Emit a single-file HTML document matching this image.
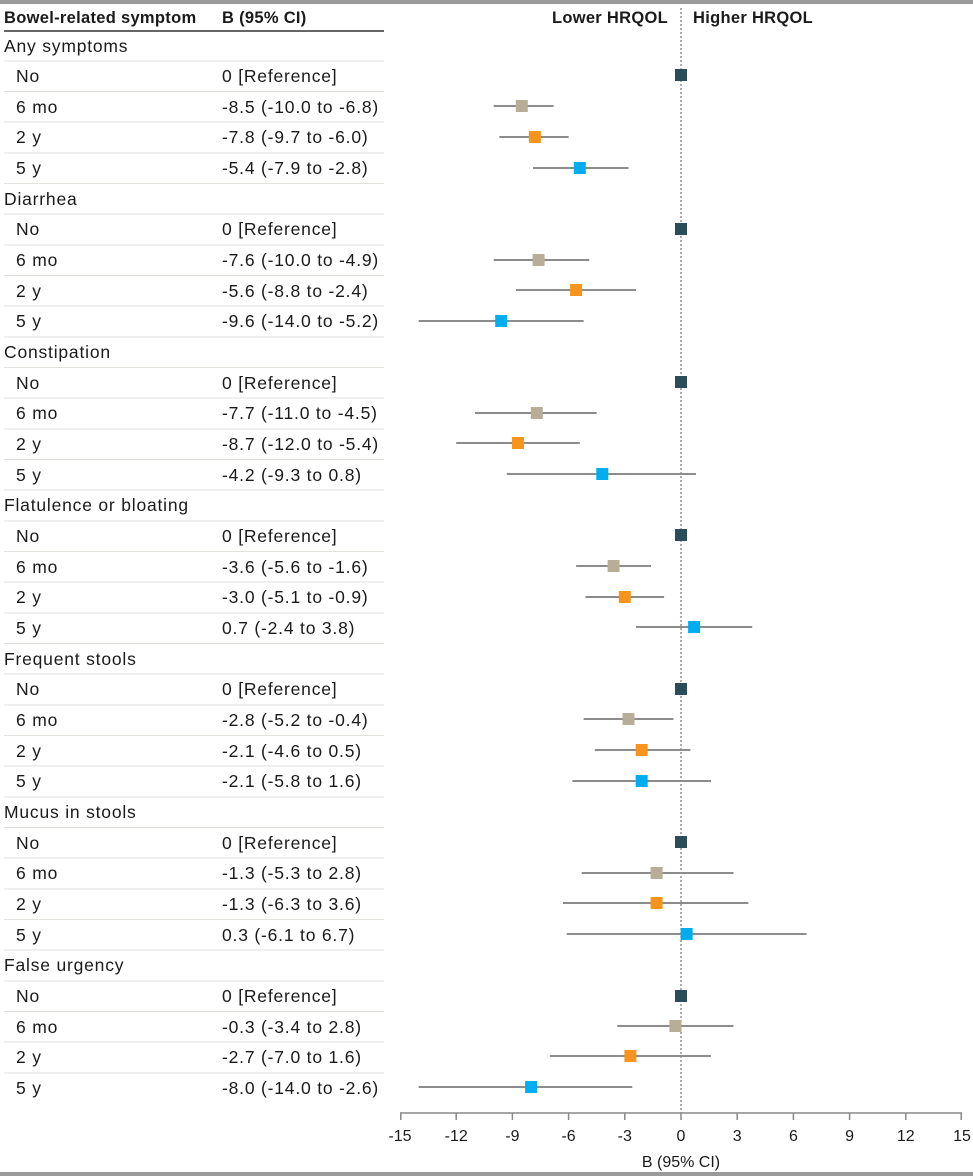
<!DOCTYPE html>
<html><head><meta charset="utf-8"><style>
html,body{margin:0;padding:0;background:#fff;}
svg{display:block;font-family:"Liberation Sans",sans-serif;}
.t{font-size:17.5px;fill:#1a1a1a;letter-spacing:0.8px;}
.h{font-size:16.5px;fill:#1a1a1a;font-weight:bold;letter-spacing:0.3px;}
.sep{stroke:#e2e2dc;stroke-width:1;}
.ci{stroke:#8c8c8c;stroke-width:2;}
.tk{font-size:16px;fill:#1a1a1a;text-anchor:middle;}
</style></head><body>
<svg width="973" height="1176" viewBox="0 0 973 1176">
<rect x="0" y="0" width="973" height="4" fill="#9a9a9a"/>
<rect x="0" y="1172" width="973" height="4" fill="#9a9a9a"/>
<text class="h" x="4" y="23">Bowel-related symptom</text>
<text class="h" x="222" y="23">B (95% CI)</text>
<line x1="4" y1="31" x2="384" y2="31" stroke="#333" stroke-width="1.5"/>
<text class="h" x="668" y="23" text-anchor="end">Lower HRQOL</text>
<text class="h" x="693" y="23">Higher HRQOL</text>
<line x1="681" y1="8" x2="681" y2="1113" stroke="#777" stroke-width="1.2" stroke-dasharray="2,2"/>

<g class="t">
<text class="t" x="4" y="52">Any symptoms</text>
<text class="t" x="16" y="82">No</text><text class="t" x="222" y="82">0 [Reference]</text>
<text class="t" x="16" y="113">6 mo</text><text class="t" x="222" y="113">-8.5 (-10.0 to -6.8)</text>
<text class="t" x="16" y="143">2 y</text><text class="t" x="222" y="143">-7.8 (-9.7 to -6.0)</text>
<text class="t" x="16" y="174">5 y</text><text class="t" x="222" y="174">-5.4 (-7.9 to -2.8)</text>
<text class="t" x="4" y="205">Diarrhea</text>
<text class="t" x="16" y="235">No</text><text class="t" x="222" y="235">0 [Reference]</text>
<text class="t" x="16" y="266">6 mo</text><text class="t" x="222" y="266">-7.6 (-10.0 to -4.9)</text>
<text class="t" x="16" y="297">2 y</text><text class="t" x="222" y="297">-5.6 (-8.8 to -2.4)</text>
<text class="t" x="16" y="327">5 y</text><text class="t" x="222" y="327">-9.6 (-14.0 to -5.2)</text>
<text class="t" x="4" y="358">Constipation</text>
<text class="t" x="16" y="389">No</text><text class="t" x="222" y="389">0 [Reference]</text>
<text class="t" x="16" y="419">6 mo</text><text class="t" x="222" y="419">-7.7 (-11.0 to -4.5)</text>
<text class="t" x="16" y="450">2 y</text><text class="t" x="222" y="450">-8.7 (-12.0 to -5.4)</text>
<text class="t" x="16" y="481">5 y</text><text class="t" x="222" y="481">-4.2 (-9.3 to 0.8)</text>
<text class="t" x="4" y="511">Flatulence or bloating</text>
<text class="t" x="16" y="542">No</text><text class="t" x="222" y="542">0 [Reference]</text>
<text class="t" x="16" y="573">6 mo</text><text class="t" x="222" y="573">-3.6 (-5.6 to -1.6)</text>
<text class="t" x="16" y="603">2 y</text><text class="t" x="222" y="603">-3.0 (-5.1 to -0.9)</text>
<text class="t" x="16" y="634">5 y</text><text class="t" x="222" y="634">0.7 (-2.4 to 3.8)</text>
<text class="t" x="4" y="665">Frequent stools</text>
<text class="t" x="16" y="695">No</text><text class="t" x="222" y="695">0 [Reference]</text>
<text class="t" x="16" y="726">6 mo</text><text class="t" x="222" y="726">-2.8 (-5.2 to -0.4)</text>
<text class="t" x="16" y="757">2 y</text><text class="t" x="222" y="757">-2.1 (-4.6 to 0.5)</text>
<text class="t" x="16" y="787">5 y</text><text class="t" x="222" y="787">-2.1 (-5.8 to 1.6)</text>
<text class="t" x="4" y="818">Mucus in stools</text>
<text class="t" x="16" y="849">No</text><text class="t" x="222" y="849">0 [Reference]</text>
<text class="t" x="16" y="879">6 mo</text><text class="t" x="222" y="879">-1.3 (-5.3 to  2.8)</text>
<text class="t" x="16" y="910">2 y</text><text class="t" x="222" y="910">-1.3 (-6.3 to 3.6)</text>
<text class="t" x="16" y="941">5 y</text><text class="t" x="222" y="941">0.3 (-6.1 to 6.7)</text>
<text class="t" x="4" y="971">False urgency</text>
<text class="t" x="16" y="1002">No</text><text class="t" x="222" y="1002">0 [Reference]</text>
<text class="t" x="16" y="1033">6 mo</text><text class="t" x="222" y="1033">-0.3 (-3.4 to 2.8)</text>
<text class="t" x="16" y="1063">2 y</text><text class="t" x="222" y="1063">-2.7 (-7.0 to 1.6)</text>
<text class="t" x="16" y="1094">5 y</text><text class="t" x="222" y="1094">-8.0 (-14.0 to -2.6)</text>
</g>

<g class="sep">
<line x1="4" x2="384" y1="61" y2="61"/><line x1="4" x2="384" y1="91.5" y2="91.5"/><line x1="4" x2="384" y1="122" y2="122"/><line x1="4" x2="384" y1="153" y2="153"/><line x1="4" x2="384" y1="183.5" y2="183.5"/>
<line x1="4" x2="384" y1="214" y2="214"/><line x1="4" x2="384" y1="245" y2="245"/><line x1="4" x2="384" y1="275.5" y2="275.5"/><line x1="4" x2="384" y1="306" y2="306"/><line x1="4" x2="384" y1="337" y2="337"/>
<line x1="4" x2="384" y1="367.5" y2="367.5"/><line x1="4" x2="384" y1="398" y2="398"/><line x1="4" x2="384" y1="429" y2="429"/><line x1="4" x2="384" y1="459.5" y2="459.5"/><line x1="4" x2="384" y1="490" y2="490"/>
<line x1="4" x2="384" y1="521" y2="521"/><line x1="4" x2="384" y1="551.5" y2="551.5"/><line x1="4" x2="384" y1="582" y2="582"/><line x1="4" x2="384" y1="613" y2="613"/><line x1="4" x2="384" y1="643.5" y2="643.5"/>
<line x1="4" x2="384" y1="674" y2="674"/><line x1="4" x2="384" y1="705" y2="705"/><line x1="4" x2="384" y1="735.5" y2="735.5"/><line x1="4" x2="384" y1="766" y2="766"/><line x1="4" x2="384" y1="797" y2="797"/>
<line x1="4" x2="384" y1="827.5" y2="827.5"/><line x1="4" x2="384" y1="858" y2="858"/><line x1="4" x2="384" y1="889" y2="889"/><line x1="4" x2="384" y1="919.5" y2="919.5"/><line x1="4" x2="384" y1="950" y2="950"/>
<line x1="4" x2="384" y1="981" y2="981"/><line x1="4" x2="384" y1="1011.5" y2="1011.5"/><line x1="4" x2="384" y1="1042" y2="1042"/><line x1="4" x2="384" y1="1073" y2="1073"/>
</g>

<g class="ci">
<line x1="493.7" x2="553.6" y1="106" y2="106"/><line x1="499.3" x2="568.6" y1="137" y2="137"/><line x1="533.0" x2="628.5" y1="168" y2="168"/>
<line x1="493.7" x2="589.2" y1="260" y2="260"/><line x1="516.1" x2="636.0" y1="290" y2="290"/><line x1="418.7" x2="583.6" y1="321" y2="321"/>
<line x1="474.9" x2="596.7" y1="413" y2="413"/><line x1="456.2" x2="579.8" y1="443" y2="443"/><line x1="506.8" x2="696.0" y1="474" y2="474"/>
<line x1="576.1" x2="651.0" y1="566" y2="566"/><line x1="585.5" x2="664.1" y1="597" y2="597"/><line x1="636.0" x2="752.2" y1="627" y2="627"/>
<line x1="583.6" x2="673.5" y1="719" y2="719"/><line x1="594.8" x2="690.4" y1="750" y2="750"/><line x1="572.3" x2="711.0" y1="781" y2="781"/>
<line x1="581.7" x2="733.5" y1="873" y2="873"/><line x1="563.0" x2="748.4" y1="903" y2="903"/><line x1="566.7" x2="806.5" y1="934" y2="934"/>
<line x1="617.3" x2="733.5" y1="1026" y2="1026"/><line x1="549.9" x2="711.0" y1="1056" y2="1056"/><line x1="418.7" x2="632.3" y1="1087" y2="1087"/>
</g>

<g>
<rect x="675" y="69" width="12" height="12" fill="#2b4d5a"/>
<rect x="515.8" y="100" width="12" height="12" fill="#b8ae98"/>
<rect x="528.9" y="131" width="12" height="12" fill="#f7941d"/>
<rect x="573.8" y="162" width="12" height="12" fill="#00aeef"/>
<rect x="675" y="223" width="12" height="12" fill="#2b4d5a"/>
<rect x="532.6" y="254" width="12" height="12" fill="#b8ae98"/>
<rect x="570.1" y="284" width="12" height="12" fill="#f7941d"/>
<rect x="495.2" y="315" width="12" height="12" fill="#00aeef"/>
<rect x="675" y="376" width="12" height="12" fill="#2b4d5a"/>
<rect x="530.8" y="407" width="12" height="12" fill="#b8ae98"/>
<rect x="512.0" y="437" width="12" height="12" fill="#f7941d"/>
<rect x="596.3" y="468" width="12" height="12" fill="#00aeef"/>
<rect x="675" y="529" width="12" height="12" fill="#2b4d5a"/>
<rect x="607.6" y="560" width="12" height="12" fill="#b8ae98"/>
<rect x="618.8" y="591" width="12" height="12" fill="#f7941d"/>
<rect x="688.1" y="621" width="12" height="12" fill="#00aeef"/>
<rect x="675" y="683" width="12" height="12" fill="#2b4d5a"/>
<rect x="622.5" y="713" width="12" height="12" fill="#b8ae98"/>
<rect x="635.7" y="744" width="12" height="12" fill="#f7941d"/>
<rect x="635.7" y="775" width="12" height="12" fill="#00aeef"/>
<rect x="675" y="836" width="12" height="12" fill="#2b4d5a"/>
<rect x="650.6" y="867" width="12" height="12" fill="#b8ae98"/>
<rect x="650.6" y="897" width="12" height="12" fill="#f7941d"/>
<rect x="680.6" y="928" width="12" height="12" fill="#00aeef"/>
<rect x="675" y="990" width="12" height="12" fill="#2b4d5a"/>
<rect x="669.4" y="1020" width="12" height="12" fill="#b8ae98"/>
<rect x="624.4" y="1050" width="12" height="12" fill="#f7941d"/>
<rect x="525.1" y="1081" width="12" height="12" fill="#00aeef"/>
</g>

<g stroke="#888" stroke-width="1.5">
<line x1="400" x2="962" y1="1113" y2="1113"/>
<line x1="400.8" x2="400.8" y1="1113" y2="1120"/><line x1="456.2" x2="456.2" y1="1113" y2="1120"/><line x1="512.4" x2="512.4" y1="1113" y2="1120"/><line x1="568.6" x2="568.6" y1="1113" y2="1120"/><line x1="624.8" x2="624.8" y1="1113" y2="1120"/><line x1="681" x2="681" y1="1113" y2="1120"/><line x1="737.2" x2="737.2" y1="1113" y2="1120"/><line x1="793.4" x2="793.4" y1="1113" y2="1120"/><line x1="849.6" x2="849.6" y1="1113" y2="1120"/><line x1="905.8" x2="905.8" y1="1113" y2="1120"/><line x1="961.2" x2="961.2" y1="1113" y2="1120"/>
</g>
<g>
<text class="tk" x="400" y="1141">-15</text><text class="tk" x="456.2" y="1141">-12</text><text class="tk" x="512.4" y="1141">-9</text><text class="tk" x="568.6" y="1141">-6</text><text class="tk" x="624.8" y="1141">-3</text><text class="tk" x="681" y="1141">0</text><text class="tk" x="737.2" y="1141">3</text><text class="tk" x="793.4" y="1141">6</text><text class="tk" x="849.6" y="1141">9</text><text class="tk" x="905.8" y="1141">12</text><text class="tk" x="962" y="1141">15</text>
<text class="tk" x="681" y="1167">B (95% CI)</text>
</g>
</svg>
</body></html>
